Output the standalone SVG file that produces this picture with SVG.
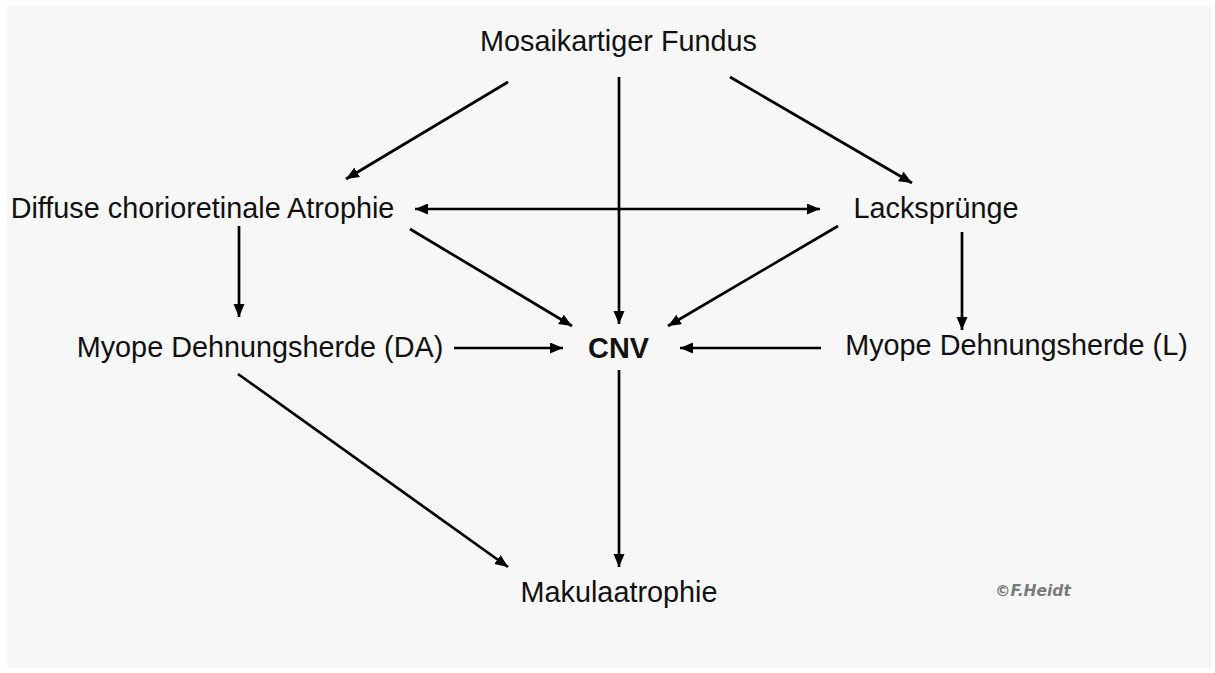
<svg xmlns="http://www.w3.org/2000/svg" width="1215" height="673" viewBox="0 0 1215 673">
<style>
.lbl{font-family:"Liberation Sans",Arial,Helvetica,sans-serif;font-size:28.8px;fill:#111;text-anchor:middle}
.bold{font-weight:bold}
.edge{stroke:#000;stroke-width:2.7;fill:none;marker-end:url(#ah)}
.sig{font-family:"DejaVu Sans","Liberation Sans",sans-serif;font-style:italic;font-weight:bold;font-size:15.5px;fill:#7a7a7a}
</style>
<defs>
<marker id="ah" markerUnits="userSpaceOnUse" markerWidth="14" markerHeight="12" refX="13" refY="5.5" orient="auto">
<path d="M0,0 L13,5.5 L0,11 z" fill="#000"/>
</marker>
<marker id="ahs" markerUnits="userSpaceOnUse" markerWidth="14" markerHeight="12" refX="0" refY="5.5" orient="auto">
<path d="M13,0 L0,5.5 L13,11 z" fill="#000"/>
</marker>
</defs>
<rect x="0" y="0" width="1215" height="673" fill="#ffffff"/>
<rect x="7" y="6" width="1205" height="662" fill="#f7f7f7"/>
<g id="connectors">
<line class="edge" x1="508" y1="82" x2="346" y2="179"/>
<line class="edge" x1="619" y1="77" x2="619" y2="324"/>
<line class="edge" x1="730" y1="77" x2="912" y2="183"/>
<line class="edge" x1="415" y1="209" x2="820" y2="209" style="marker-start:url(#ahs)"/>
<line class="edge" x1="410" y1="229" x2="572" y2="326"/>
<line class="edge" x1="838" y1="226" x2="668" y2="326"/>
<line class="edge" x1="239" y1="226" x2="239" y2="317"/>
<line class="edge" x1="962" y1="232" x2="962" y2="330"/>
<line class="edge" x1="454" y1="348" x2="563" y2="348"/>
<line class="edge" x1="821" y1="348" x2="680" y2="348"/>
<line class="edge" x1="619" y1="370" x2="619" y2="567"/>
<line class="edge" x1="238" y1="374" x2="508" y2="567"/>
</g>
<g id="node-mosaik"><text class="lbl" x="618.5" y="51">Mosaikartiger Fundus</text></g>
<g id="node-diffuse"><text class="lbl" x="202.5" y="218">Diffuse chorioretinale Atrophie</text></g>
<g id="node-lack"><text class="lbl" x="936" y="218">Lacksprünge</text></g>
<g id="node-myope-da"><text class="lbl" x="260" y="357">Myope Dehnungsherde (DA)</text></g>
<g id="node-cnv"><text class="lbl bold" x="618.5" y="358">CNV</text></g>
<g id="node-myope-l"><text class="lbl" x="1016.5" y="355">Myope Dehnungsherde (L)</text></g>
<g id="node-makula"><text class="lbl" x="619" y="602">Makulaatrophie</text></g>
<text class="sig" x="995" y="596">©F.Heidt</text>
</svg>
